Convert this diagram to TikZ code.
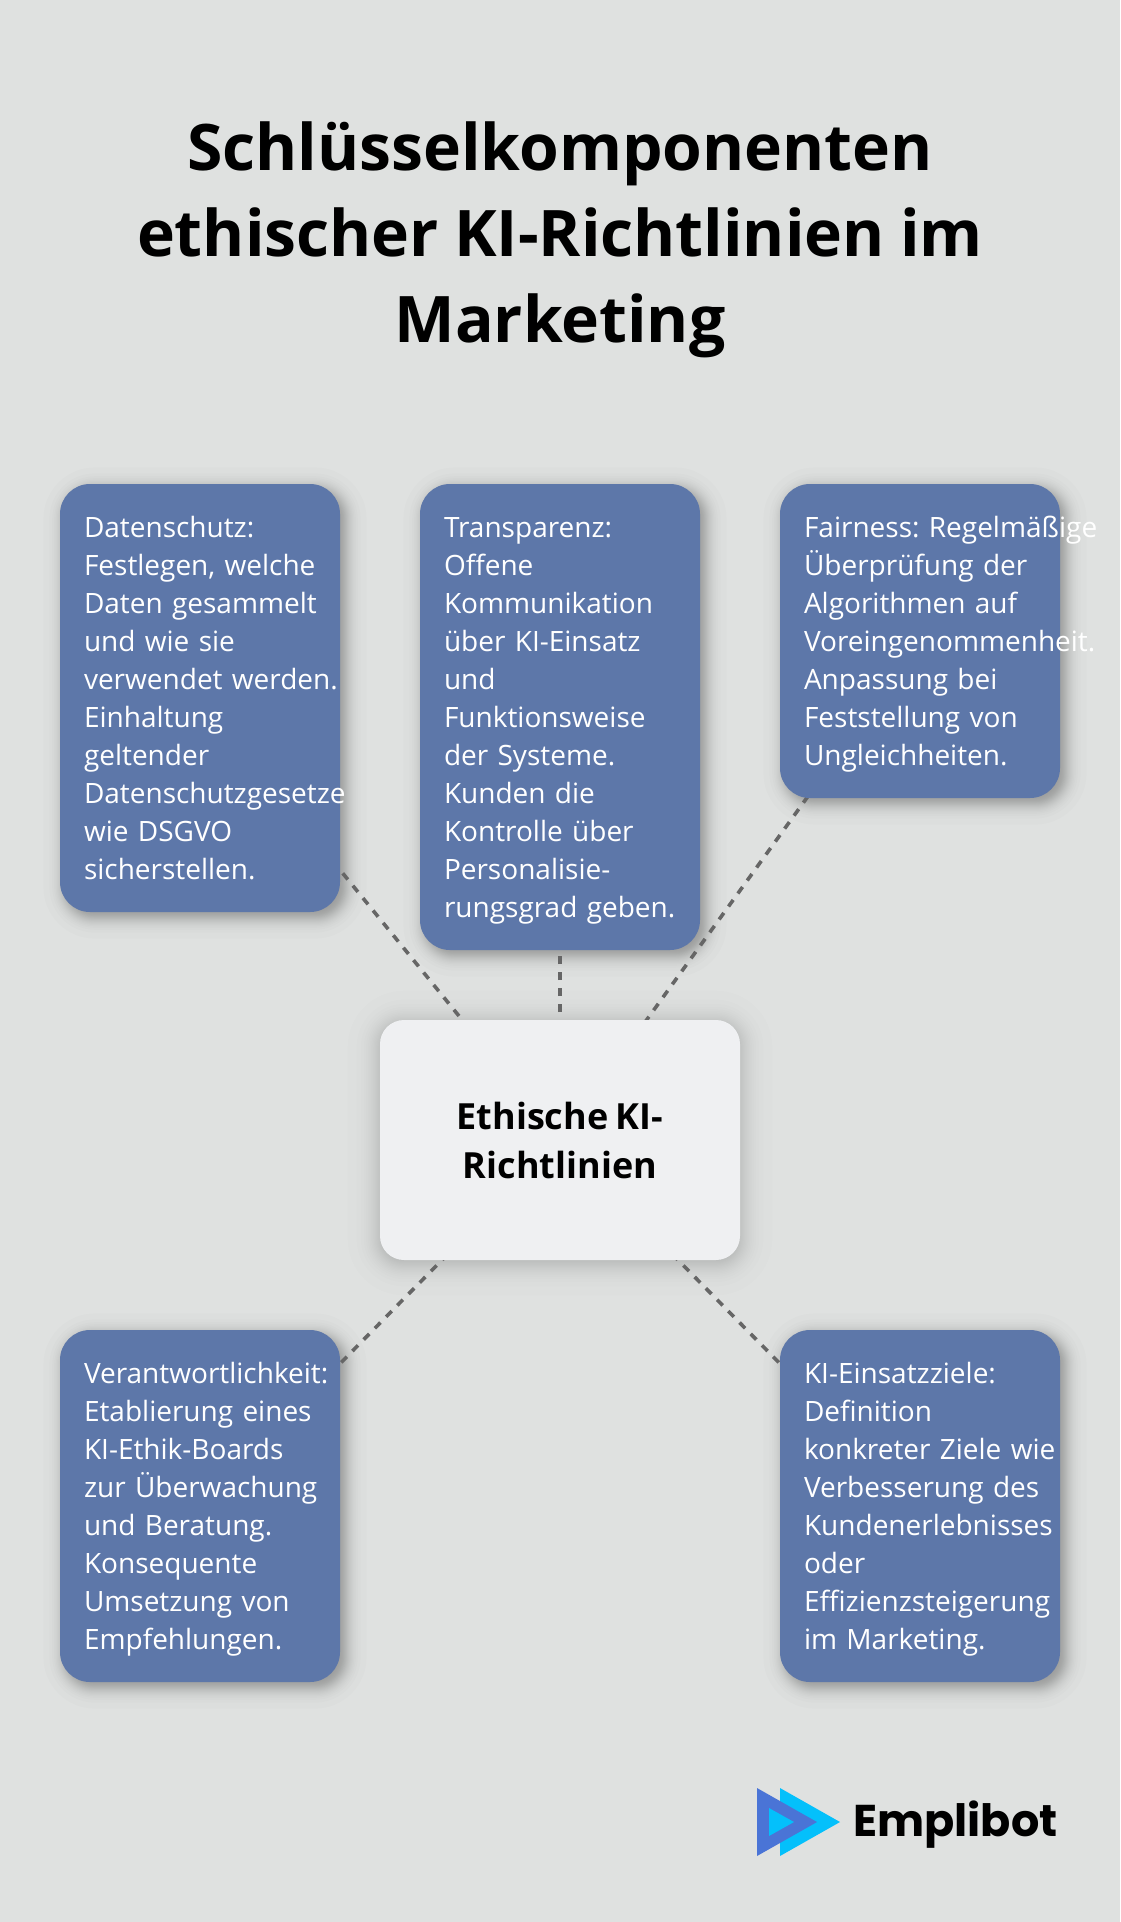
\documentclass[tikz,border=0pt]{standalone}
\usepackage{fontspec}
\setmainfont{Open Sans}
\newfontfamily\logofont{Poppins}
\usetikzlibrary{backgrounds}
\definecolor{bgc}{HTML}{DFE1E0}
\definecolor{bluec}{HTML}{5D77A9}
\definecolor{centerc}{HTML}{EFF0F2}
\definecolor{linec}{HTML}{666666}
\definecolor{logoa}{HTML}{4A74D6}
\definecolor{logob}{HTML}{04C0FB}
\newcommand\nb[1]{\mbox{#1}}
\newcommand\cardstrut{\rule[-8.1pt]{0pt}{38pt}}
\tikzset{
  x=1pt,y=-1pt,
  card/.style={rounded corners=30pt,fill=bluec,text=white,minimum width=280pt,inner xsep=0pt,inner ysep=0pt,
    text width=232pt,align=left,font=\frenchspacing\fontsize{28}{38}\selectfont,anchor=center,
    execute at begin node=\cardstrut,execute at end node=\cardstrut},
  hub/.style={rounded corners=24pt,fill=centerc,text=black,minimum width=360pt,minimum height=240pt,inner sep=0pt,
    text width=320pt,align=center,font=\bfseries\fontsize{36}{49}\selectfont,anchor=center,
    execute at begin node={\spaceskip=7.5pt\relax}},
  titletext/.style={text=black,align=center,text width=1000pt,inner sep=0pt,font=\bfseries\fontsize{64.2}{86}\selectfont,anchor=center,
    execute at begin node={\spaceskip=15.4pt\relax}},
  link/.style={draw=linec,line width=3.6pt,dash pattern=on 8pt off 8pt},
  shadowlayer/.style={fill=black,fill opacity=#1,draw=none}
}
\newcommand\softshadow[6]{% node, dx, dy, sigma, radius, total opacity
  \pgfmathsetmacro\layerop{#6/30}
  \foreach \st in {1,...,30}{
    \pgfmathsetmacro\uu{(2*\st-31)/30}
    \pgfmathsetmacro\sg{#4*1.05*0.5*ln((1+\uu)/(1-\uu))}
    \pgfmathsetmacro\rr{max(#5+\sg,2)}
    \path[shadowlayer=\layerop,rounded corners=\rr pt]
      ([xshift=#2pt-\sg pt,yshift=-#3pt+\sg pt]#1.north west)
      rectangle ([xshift=#2pt+\sg pt,yshift=-#3pt-\sg pt]#1.south east);
  }
}
\begin{document}
\begin{tikzpicture}
\useasboundingbox (0,0) rectangle (1120,1922);

\node[titletext] (title) at (560,240) {Schlüsselkomponenten\\ethischer KI-Richtlinien im\\Marketing};

\node[hub] (hub) at (560,1140) {Ethische KI-\\Richtlinien};

\node[card,minimum height=428pt] (a) at (200,698) {Datenschutz:\\\nb{Festlegen, welche}\\\nb{Daten gesammelt}\\und wie sie\\\nb{verwendet werden.}\\Einhaltung\\geltender\\Datenschutzgesetze\\wie DSGVO\\sicherstellen.};
\node[card,minimum height=466pt] (b) at (560,717) {Transparenz:\\Offene\\Kommunikation\\\nb{über KI-Einsatz}\\und\\Funktionsweise\\der Systeme.\\Kunden die\\\nb{Kontrolle über}\\Personalisie-\\\nb{rungsgrad geben.}};
\node[card,minimum height=314pt] (c) at (920,641) {\nb{Fairness: Regelmäßige}\\\nb{Überprüfung der}\\\nb{Algorithmen auf}\\Voreingenommenheit.\\Anpassung bei\\\nb{Feststellung von}\\Ungleichheiten.};
\node[card,minimum height=352pt] (d) at (200,1506) {Verantwortlichkeit:\\\nb{Etablierung eines}\\KI-Ethik-Boards\\\nb{zur Überwachung}\\\nb{und Beratung.}\\Konsequente\\\nb{Umsetzung von}\\Empfehlungen.};
\node[card,minimum height=352pt] (e) at (920,1506) {KI-Einsatzziele:\\Definition\\\nb{konkreter Ziele wie}\\\nb{Verbesserung des}\\Kundenerlebnisses\\oder\\Effizienzsteigerung\\\nb{im Marketing.}};

\begin{pgfonlayer}{background}
  \fill[bgc] (0,0) rectangle (1120,1922);
  \softshadow{a}{5}{5}{10}{30}{0.3}
  \softshadow{b}{5}{5}{10}{30}{0.3}
  \softshadow{c}{5}{5}{10}{30}{0.3}
  \softshadow{d}{5}{5}{10}{30}{0.3}
  \softshadow{e}{5}{5}{10}{30}{0.3}
  \softshadow{hub}{0}{3}{15}{24}{0.25}
  \draw[link] (hub.center) -- (a.center);
  \draw[link] (hub.center) -- (b.center);
  \draw[link] (hub.center) -- (c.center);
  \draw[link] (hub.center) -- (d.center);
  \draw[link] (hub.center) -- (e.center);
\end{pgfonlayer}

% logo
\fill[logob] (780,1788) -- (780,1856) -- (840,1822) -- cycle;
\fill[logoa] (757,1788) -- (757,1856) -- (817,1822) -- cycle;
\fill[logob] (769,1808) -- (769,1836) -- (794,1822) -- cycle;
\node[anchor=west,inner sep=0pt,font=\logofont\bfseries\fontsize{44.5}{44}\selectfont,text=black] (logo) at (853,1825) {Emplibot};
\end{tikzpicture}
\end{document}
